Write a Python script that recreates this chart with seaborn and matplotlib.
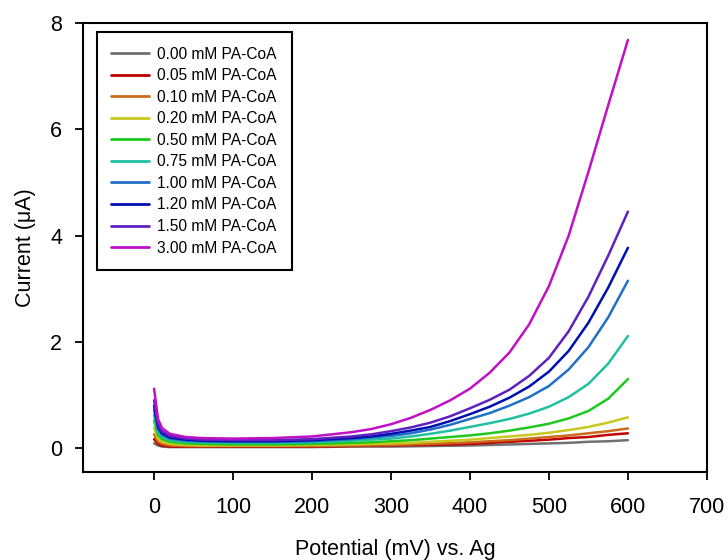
import matplotlib
matplotlib.use('Agg')
import matplotlib.pyplot as plt
import seaborn as sns
import pandas as pd

# potentials (mV) at which the currents were read
potential = [0, 5, 10, 20, 40, 60, 100, 150, 200, 250, 275, 300, 325, 350, 375,
             400, 425, 450, 475, 500, 525, 550, 575, 600]

labels = ['0.00 mM PA-CoA', '0.05 mM PA-CoA', '0.10 mM PA-CoA', '0.20 mM PA-CoA',
          '0.50 mM PA-CoA', '0.75 mM PA-CoA', '1.00 mM PA-CoA', '1.20 mM PA-CoA',
          '1.50 mM PA-CoA', '3.00 mM PA-CoA']

# current (uA) for each concentration
i_000 = [0.09, 0.05, 0.03, 0.02, 0.02, 0.02, 0.02, 0.02, 0.02, 0.03, 0.03, 0.03, 0.035,
         0.04, 0.045, 0.05, 0.06, 0.07, 0.08, 0.09, 0.10, 0.12, 0.13, 0.15]
i_005 = [0.17, 0.08, 0.05, 0.03, 0.03, 0.03, 0.03, 0.03, 0.03, 0.04, 0.045, 0.05, 0.055,
         0.06, 0.07, 0.08, 0.10, 0.12, 0.14, 0.16, 0.19, 0.21, 0.25, 0.28]
i_010 = [0.26, 0.12, 0.08, 0.05, 0.04, 0.04, 0.04, 0.04, 0.04, 0.05, 0.055, 0.06, 0.07,
         0.08, 0.095, 0.11, 0.13, 0.15, 0.18, 0.21, 0.24, 0.28, 0.32, 0.37]
i_020 = [0.38, 0.18, 0.12, 0.08, 0.06, 0.05, 0.05, 0.05, 0.06, 0.07, 0.08, 0.09, 0.10,
         0.12, 0.14, 0.16, 0.19, 0.22, 0.25, 0.29, 0.34, 0.40, 0.48, 0.58]
i_050 = [0.52, 0.25, 0.17, 0.12, 0.09, 0.08, 0.07, 0.07, 0.08, 0.10, 0.11, 0.13, 0.15,
         0.18, 0.21, 0.24, 0.28, 0.33, 0.39, 0.46, 0.56, 0.70, 0.93, 1.30]
i_075 = [0.62, 0.30, 0.21, 0.15, 0.12, 0.11, 0.10, 0.10, 0.11, 0.14, 0.16, 0.18, 0.22,
         0.27, 0.33, 0.40, 0.47, 0.55, 0.65, 0.78, 0.96, 1.21, 1.59, 2.11]
i_100 = [0.72, 0.36, 0.25, 0.18, 0.14, 0.13, 0.12, 0.12, 0.13, 0.17, 0.20, 0.23, 0.28,
         0.35, 0.44, 0.55, 0.66, 0.80, 0.96, 1.17, 1.48, 1.90, 2.46, 3.15]
i_120 = [0.80, 0.40, 0.28, 0.20, 0.16, 0.14, 0.13, 0.13, 0.15, 0.19, 0.22, 0.27, 0.33,
         0.40, 0.51, 0.64, 0.78, 0.95, 1.16, 1.44, 1.83, 2.36, 3.02, 3.77]
i_150 = [0.90, 0.45, 0.32, 0.23, 0.18, 0.16, 0.15, 0.15, 0.17, 0.22, 0.26, 0.32, 0.39,
         0.48, 0.60, 0.75, 0.91, 1.10, 1.36, 1.70, 2.20, 2.85, 3.62, 4.45]
i_300 = [1.12, 0.55, 0.38, 0.27, 0.21, 0.19, 0.18, 0.19, 0.22, 0.30, 0.36, 0.45, 0.57,
         0.72, 0.90, 1.12, 1.42, 1.80, 2.33, 3.05, 4.00, 5.20, 6.45, 7.68]

currents = [i_000, i_005, i_010, i_020, i_050, i_075, i_100, i_120, i_150, i_300]
colors = ['#707070', '#c00000', '#cc6a1a', '#c8c81e', '#1ec81e', '#20c0a0',
          '#2070c8', '#0010b0', '#6020c0', '#c010c8']

rows = []
for lab, cur in zip(labels, currents):
    for v, c in zip(potential, cur):
        rows.append({'potential': v, 'current': c, 'conc': lab})
df = pd.DataFrame(rows)

sns.set_style('ticks')
plt.rcParams['font.family'] = ['Liberation Sans', 'DejaVu Sans']
plt.rcParams['text.color'] = 'black'
plt.rcParams['axes.labelcolor'] = 'black'
plt.rcParams['xtick.color'] = 'black'
plt.rcParams['ytick.color'] = 'black'

fig = plt.figure(figsize=(7.28, 5.6), dpi=100)
ax = fig.add_axes([0.114, 0.157, 0.857, 0.802])
sns.lineplot(data=df, x='potential', y='current', hue='conc',
             palette=dict(zip(labels, colors)), linewidth=1.8, ax=ax)

ax.set_xlim(-90, 700)
ax.set_ylim(-0.45, 8)
ax.set_xticks(range(0, 701, 100))
ax.set_yticks([0, 2, 4, 6, 8])
ax.tick_params(direction='out', length=6, width=1.3, labelsize=15.5)
ax.tick_params(axis='y', pad=9)
ax.tick_params(axis='x', pad=12)
for s in ax.spines.values():
    s.set_linewidth(1.5)
    s.set_color('black')
ax.set_xlabel('Potential (mV) vs. Ag', fontsize=15.5)
ax.set_ylabel('Current (\u03bcA)', fontsize=15.5)
ax.xaxis.set_label_coords(0.5, -0.148)
ax.yaxis.set_label_coords(-0.076, 0.5)

leg = ax.legend(loc='upper left', bbox_to_anchor=(0.022, 0.98), borderaxespad=0,
                fontsize=11.2, frameon=True, fancybox=False, framealpha=1,
                edgecolor='black', handlelength=2.4, handletextpad=0.55,
                labelspacing=0.42, borderpad=0.95, title=None)
leg.get_frame().set_linewidth(1.5)
for line in leg.get_lines():
    line.set_linewidth(2)

fig.savefig('out.png', dpi=100)
